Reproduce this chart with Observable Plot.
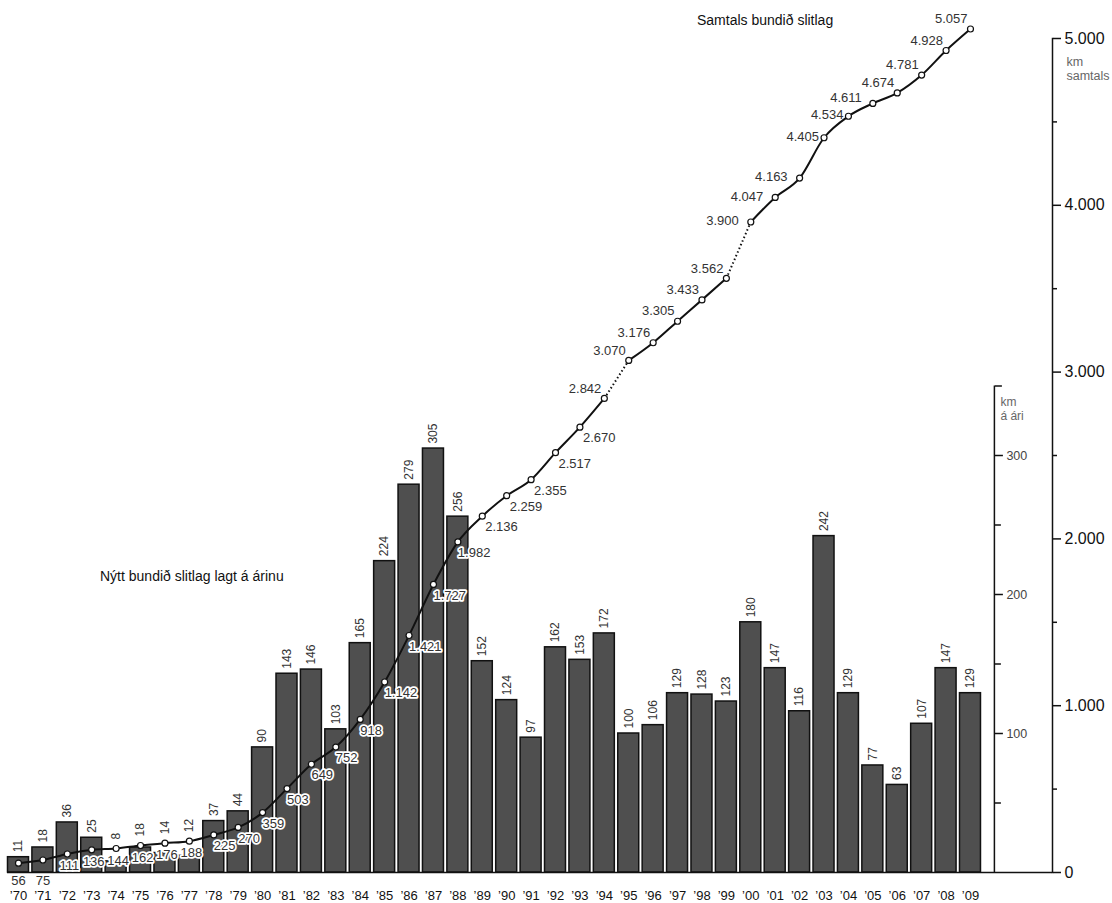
<!DOCTYPE html>
<html><head><meta charset="utf-8">
<script src="https://cdn.jsdelivr.net/npm/d3@7"></script>
<script src="https://cdn.jsdelivr.net/npm/@observablehq/plot@0.6"></script>
<style>
body{margin:0;background:#fff;font-family:"Liberation Sans",Arial,Helvetica,sans-serif;}
#wrap{position:relative;width:1112px;height:903px;}
.title{position:absolute;font-size:14px;color:#111;white-space:nowrap;line-height:16px;}
</style></head><body>
<div id="wrap">
<div class="title" style="left:697px;top:12px">Samtals bundið slitlag</div>
<div class="title" style="left:100px;top:568px">Nýtt bundið slitlag lagt á árinu</div>
</div>
<script>
// ---- data ----
const years = [1970,1971,1972,1973,1974,1975,1976,1977,1978,1979,
               1980,1981,1982,1983,1984,1985,1986,1987,1988,1989,
               1990,1991,1992,1993,1994,1995,1996,1997,1998,1999,
               2000,2001,2002,2003,2004,2005,2006,2007,2008,2009];
const yearlyKm = [11,18,36,25,8,18,14,12,37,44,
                  90,143,146,103,165,224,279,305,256,152,
                  124,97,162,153,172,100,106,129,128,123,
                  180,147,116,242,129,77,63,107,147,129];
const totalKm = [56,75,111,136,144,162,176,188,225,270,
                 359,503,649,752,918,1142,1421,1727,1982,2136,
                 2259,2355,2517,2670,2842,3070,3176,3305,3433,3562,
                 3900,4047,4163,4405,4534,4611,4674,4781,4928,5057];
const dottedAfter = [1994, 1999];
const totalTicks = [0,1000,2000,3000,4000,5000];
const totalMinorTicks = [500,1500,2500,3500,4500];
const yearlyTicks = [100,200,300];
const yearlyMinorTicks = [50,150,250];
const yearlyAxisTop = 350;

// ---- layout ----
const W = 1112, H = 903;
const M = {top:38, right:60, bottom:31, left:0};
const xDomain = [1969.263, 2012.36];
const innerAxisYear = 2009.98;
const k = 2500/300; // yearly km -> total-km scale units (300 km/ár aligns with 2.500 km)
const pxPerYear = (W - M.left - M.right)/(xDomain[1]-xDomain[0]);
const innerDx = (innerAxisYear - xDomain[1]) * pxPerYear;

const fmt = d3.formatLocale({decimal:",", thousands:".", grouping:[3], currency:["",""]}).format(",");

const data = years.map((year,i)=>({year, km: yearlyKm[i], total: totalKm[i],
  seg: dottedAfter.filter(d => year > d).length}));
const dotted = dottedAfter.map(y => {
  const a = data.find(d=>d.year===y), b = data.find(d=>d.year===y+1);
  return {x1:a.year, y1:a.total, x2:b.year, y2:b.total};
});

// bar labels: sit on the bar, or lifted just above the line where the line passes right over a short bar
const lineJustAbove = d => d.total > d.km*k && d.total - d.km*k < 300;
const barLabelsOnBar = data.filter(d => !lineJustAbove(d));
const barLabelsOnLine = data.filter(lineJustAbove);

const labelRules = [
  {test: y => y <= 1971, o:{textAnchor:"middle", dx:0, dy:8, yZero:true}},
  {test: y => y >= 1972 && y <= 1977, o:{textAnchor:"middle", dx:2, dy:12, halo:true}},
  {test: y => y >= 1978 && y <= 1988, o:{textAnchor:"start", dx:0, dy:11, halo:true}},
  {test: y => y >= 1989 && y <= 1993, o:{textAnchor:"start", dx:3, dy:11}},
  {test: y => (y >= 1994 && y <= 1999) || y >= 2006, o:{textAnchor:"end", dx:-3, dy:-10}},
  {test: y => y >= 2000 && y <= 2002, o:{textAnchor:"end", dx:-12, dy:-1}},
  {test: y => y >= 2003 && y <= 2004, o:{textAnchor:"end", dx:-5, dy:-1}},
  {test: y => y === 2005, o:{textAnchor:"end", dx:-11, dy:-6}},
];
const labelMarks = labelRules.map(({test,o}) => Plot.text(data.filter(d=>test(d.year)), {
  x:"year", y: o.yZero ? (() => 0) : "total", text: d => fmt(d.total),
  textAnchor:o.textAnchor, dx:o.dx, dy:o.dy, fontSize:13, fill:"#333",
  ...(o.halo ? {stroke:"white", strokeWidth:3.5} : {})
}));

const chart = Plot.plot({
  width: W, height: H,
  marginTop: M.top, marginRight: M.right, marginBottom: M.bottom, marginLeft: M.left,
  style: {fontFamily:'"Liberation Sans", Arial, Helvetica, sans-serif', background:"white", color:"#111", overflow:"visible"},
  x: {domain: xDomain, axis: null},
  y: {domain: [0, 5000], axis: null},
  marks: [
    // bars
    Plot.rect(data, {x1: d=>d.year-0.43, x2: d=>d.year+0.43, y1: 0, y2: d=>d.km*k,
      fill:"#4f4f4f", stroke:"#111", strokeWidth:1.5}),
    Plot.text(barLabelsOnBar, {x:"year", y: d=>d.km*k, text: d=>String(d.km), rotate:-90,
      textAnchor:"start", dy:-5, fontSize:12, fill:"#333"}),
    Plot.text(barLabelsOnLine, {x:"year", y: "total", text: d=>String(d.km), rotate:-90,
      textAnchor:"start", dy:-9, fontSize:12, fill:"#333"}),
    // baseline
    Plot.ruleY([0], {x1: years[0]-0.45, x2: xDomain[1], stroke:"#111", strokeWidth:1.5}),
    // cumulative line
    Plot.line(data, {x:"year", y:"total", z:"seg", curve:"monotone-x", stroke:"#111", strokeWidth:2}),
    Plot.link(dotted, {x1:"x1", y1:"y1", x2:"x2", y2:"y2", stroke:"#111", strokeWidth:2, strokeDasharray:"1.5,2.5"}),
    ...labelMarks,
    Plot.dot(data, {x:"year", y:"total", r:3, fill:"white", stroke:"#111", strokeWidth:1.2}),
    // outer axis (km samtals)
    Plot.frame({anchor:"right", stroke:"#111", strokeWidth:1.5}),
    Plot.axisY({ticks: totalTicks, anchor:"right", tickSize:8, tickPadding:4, tickFormat: fmt, fontSize:16, strokeWidth:1.5}),
    Plot.axisY({ticks: totalMinorTicks, anchor:"right", tickSize:4, tickFormat: () => "", strokeWidth:1.5}),
    Plot.text(["km\nsamtals"], {frameAnchor:"top-right", textAnchor:"start", lineAnchor:"top", dx:14, dy:17, fontSize:12.5, lineHeight:1.15, fill:"#666"}),
    // inner axis (km á ári)
    Plot.ruleX([innerAxisYear], {y1: 0, y2: yearlyAxisTop*k, stroke:"#111", strokeWidth:1.5}),
    Plot.axisY({ticks: yearlyTicks.map(v=>v*k), anchor:"right", dx: innerDx, tickSize:8, tickPadding:4,
      tickFormat: d => String(Math.round(d/k)), fontSize:12.5, fill:"#444", strokeWidth:1.5}),
    Plot.axisY({ticks: yearlyMinorTicks.map(v=>v*k), anchor:"right", dx: innerDx, tickSize:6, tickFormat: () => "", strokeWidth:1.5}),
    Plot.axisY({ticks: [yearlyAxisTop*k], anchor:"right", dx: innerDx, tickSize:7, tickFormat: () => "", strokeWidth:1.5}),
    Plot.text(["km\ná ári"], {x: innerAxisYear, y: yearlyAxisTop*k, textAnchor:"start", lineAnchor:"top", dx:6, dy:11, fontSize:12, lineHeight:1.1, fill:"#666"}),
    // year labels
    Plot.axisX({ticks: years, anchor:"bottom", tickSize:0, tickPadding:18, fontSize:13,
      tickFormat: y => "\u2019" + String(y).slice(2)})
  ]
});
document.getElementById("wrap").prepend(chart);
chart.style.position = "absolute"; chart.style.left = "0"; chart.style.top = "0";
</script>
</body></html>
